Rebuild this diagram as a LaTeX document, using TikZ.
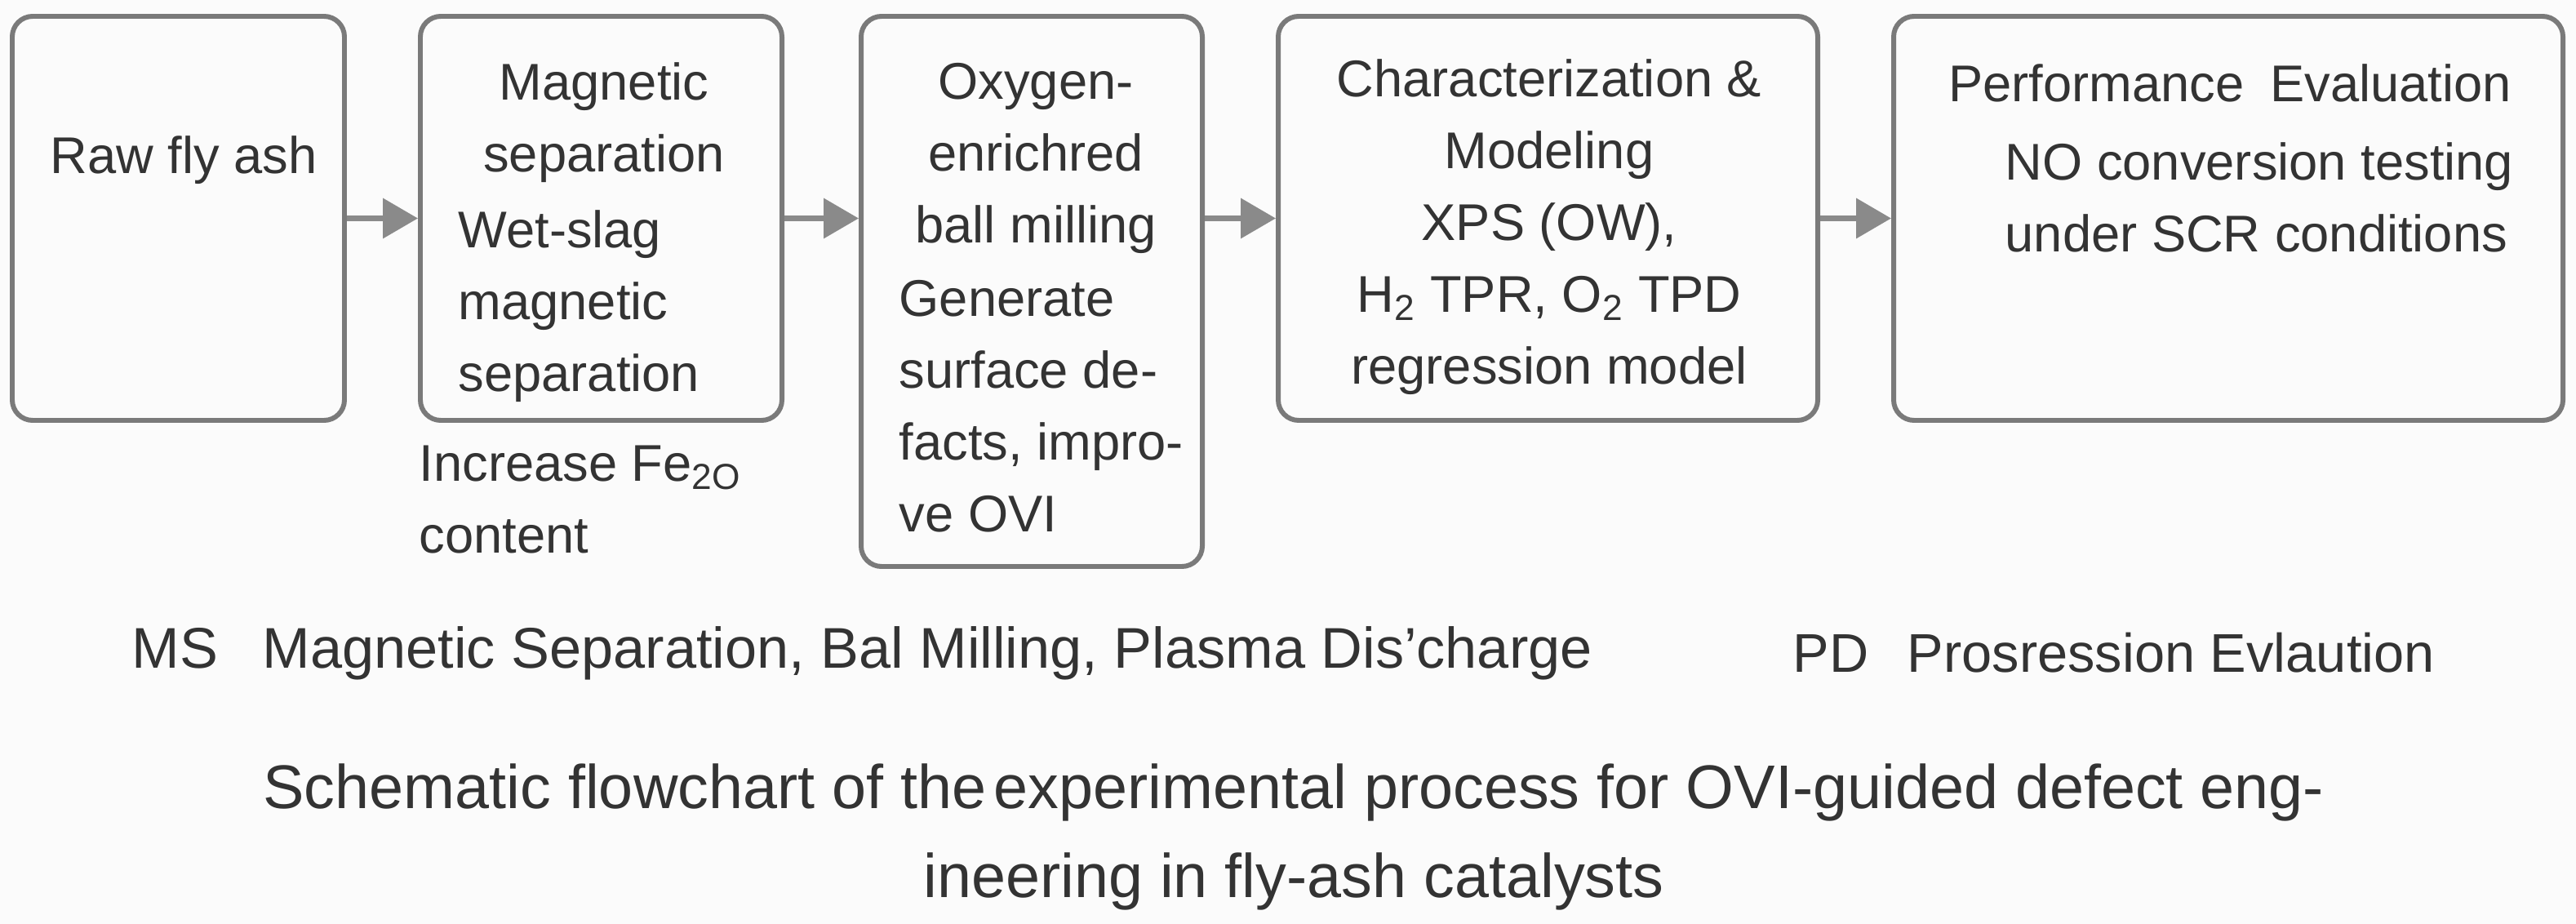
\documentclass[tikz,border=0pt]{standalone}
\usepackage{fontspec}
\setmainfont{Liberation Sans}
\usepackage{tikz}
\usetikzlibrary{arrows.meta,positioning}
\definecolor{boxgray}{HTML}{7A7A7A}
\definecolor{arrowgray}{HTML}{8A8A8A}
\definecolor{txtgray}{HTML}{333333}
\definecolor{bgwhite}{HTML}{FBFBFB}

\begin{document}
\begin{tikzpicture}[
  box/.style={draw=boxgray, line width=1.7pt, rounded corners=2.5mm, fill=bgwhite, inner sep=0pt},
  lbl/.style={text=txtgray, font=\fontsize{18}{25}\selectfont, inner sep=0pt},
  note/.style={text=txtgray, font=\fontsize{20}{30}\selectfont, inner sep=0pt, anchor=west},
  arrow/.style={-{Triangle[length=4.3mm,width=4.8mm]}, line width=2pt, draw=arrowgray}
]
  \fill[bgwhite] (0,0) rectangle (31.56,-11.32);
  \useasboundingbox (0,0) rectangle (31.56,-11.32);

  % process steps
  \node[box, minimum width=4.07cm, minimum height=4.95cm] (raw) at (2.185,-2.675) {};
  \node[lbl] (rawtxt) at (2.25,-1.96) {Raw fly ash};

  \node[box, minimum width=4.43cm, minimum height=4.95cm] (magsep) at (7.365,-2.675) {};
  \node[lbl, align=center] (magtitle) at (7.40,-1.505) {Magnetic\\separation};
  \node[lbl, align=left, anchor=west] (magbody) at (5.61,-3.75) {Wet-slag\\magnetic\\separation};
  \node[lbl, align=left, anchor=west] (fenote) at (5.13,-6.12) {Increase Fe\textsubscript{2O}\\content};

  \node[box, minimum width=4.18cm, minimum height=6.74cm] (ball) at (12.64,-3.57) {};
  \node[lbl, align=center] (balltitle) at (12.69,-1.94) {Oxygen-\\enrichred\\ball milling};
  \node[lbl, align=left, anchor=west] (ballbody) at (11.01,-4.98) {Generate\\surface de-\\facts, impro-\\ve OVI};

  \node[box, minimum width=6.61cm, minimum height=4.95cm] (charac) at (18.965,-2.675) {};
  \node[lbl, align=center] (charactxt) at (18.98,-2.78) {Characterization \&\\Modeling\\XPS (OW),\\H\textsubscript{2} TPR, O\textsubscript{2} TPD\\regression model};

  \node[box, minimum width=8.20cm, minimum height=4.95cm] (perf) at (27.30,-2.675) {};
  \node[lbl] (perftitle) at (27.32,-1.02) {Performance\enspace Evaluation};
  \node[lbl, align=left, anchor=west] (perfbody) at (24.56,-2.42) {NO conversion testing\\under SCR conditions};

  \draw[arrow] (raw.east) -- (magsep.west);
  \draw[arrow] (magsep.east) -- (magsep.east -| ball.west);
  \draw[arrow] (charac.west -| ball.east) -- (charac.west);
  \draw[arrow] (charac.east) -- (perf.west);

  % legend and caption
  \node[note] (msnote) at (1.61,-8.0) {MS\enspace\ Magnetic Separation, Bal Milling, Plasma Dis'charge};
  \node[note, font=\fontsize{19}{28}\selectfont] (pdnote) at (21.96,-8.0) {PD\enspace\hspace{4pt}Prosression Evlaution};
  \node[text=txtgray, font=\fontsize{21.5}{31}\selectfont, align=center, inner sep=0pt] (caption) at (15.85,-10.25)
    {Schematic flowchart of the\hspace{0.12em}experimental process for OVI-guided defect eng-\\ineering in fly-ash catalysts};
\end{tikzpicture}
\end{document}
